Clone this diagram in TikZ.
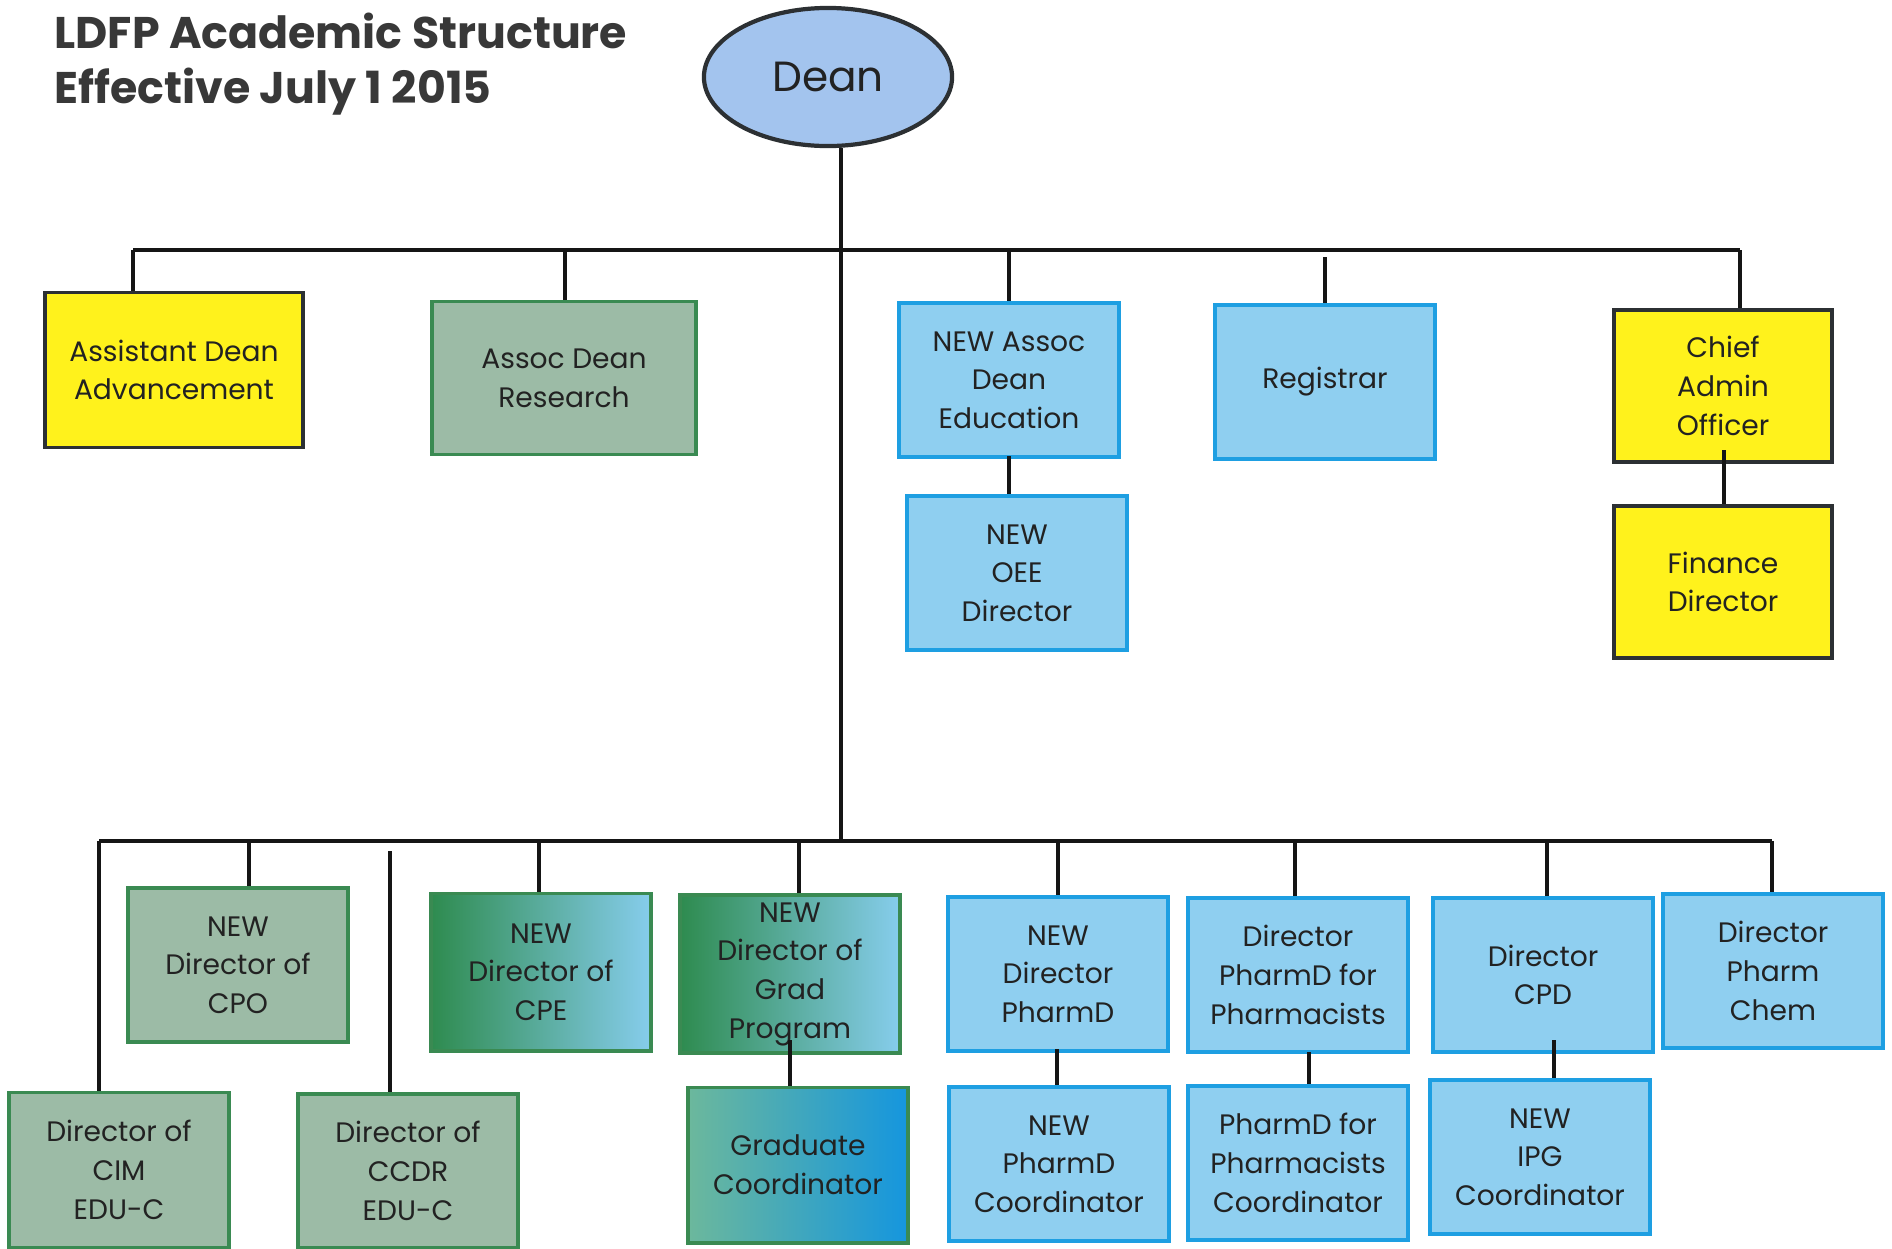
\documentclass[tikz,border=0pt]{standalone}
\usepackage{fontspec}
\setmainfont{Poppins}
\usetikzlibrary{
  positioning,
  shapes.geometric,
}
\definecolor{ink}{HTML}{222222}
\definecolor{wirec}{HTML}{151515}
\definecolor{goldfill}{HTML}{FFF21C}
\definecolor{goldedge}{HTML}{2C3033}
\definecolor{sagefill}{HTML}{9CBBA6}
\definecolor{sageedge}{HTML}{3A8A52}
\definecolor{skyfill}{HTML}{8FCFF0}
\definecolor{skyedge}{HTML}{1E9FE2}
\definecolor{deanfill}{HTML}{A3C4EE}
\definecolor{pine}{HTML}{2E8B4F}
\definecolor{palesky}{HTML}{86CDEC}
\definecolor{seafoam}{HTML}{6CB89C}
\definecolor{deepsky}{HTML}{1596DE}
\tikzset{
  wire/.style={draw=wirec, line width=0.9pt},
  post/.style={
    rectangle,
    minimum width=2.2cm,
    minimum height=1.54cm,
    inner sep=2pt,
    align=center,
    font=\fontsize{8}{11}\selectfont,
    text=ink,
    line width=1.1pt,
  },
  gold/.style={post, fill=goldfill, draw=goldedge},
  sage/.style={post, fill=sagefill, draw=sageedge},
  sky/.style={post, fill=skyfill, draw=skyedge, line width=1.3pt},
  fade/.style 2 args={post, draw=sageedge, left color=#1, right color=#2},
  headline/.style={font=\fontsize{12.6}{15.6}\selectfont\bfseries, text=ink!90, align=left, anchor=north west},
}

\begin{document}
\begin{tikzpicture}[x=0.01cm,y=-0.01cm]
  \useasboundingbox[fill=white] (0,0) rectangle (1892,1248);
  \node[headline] (title) at (42,1) {LDFP Academic Structure\\Effective July 1 2015};

  \node[ellipse, draw=goldedge, line width=1.2pt, fill=deanfill,
        minimum width=2.48cm, minimum height=1.38cm,
        font=\fontsize{12}{14}\selectfont, text=ink] (dean) at (828,77) {Dean};

  % upper row
  \node[gold, minimum width=2.58cm, minimum height=1.55cm] (adv) at (174,370) {Assistant Dean\\Advancement};
  \node[sage, minimum width=2.64cm, minimum height=1.53cm] (res) at (564,378) {Assoc Dean\\Research};
  \node[sky] (edu) at (1009,380) {NEW Assoc\\Dean\\Education};
  \node[sky] (reg) at (1325,382) {Registrar};
  \node[gold, minimum width=2.18cm, minimum height=1.52cm] (cao) at (1723,386) {Chief\\Admin\\Officer};
  \node[sky] (oee) at (1017,573) {NEW\\OEE\\Director};
  \node[gold, minimum width=2.18cm, minimum height=1.52cm] (fin) at (1723,582) {Finance\\Director};

  % lower row
  \node[sage, minimum height=1.55cm] (cim) at (119,1170) {Director of\\CIM\\EDU-C};
  \node[sage] (cpo) at (238,965) {NEW\\Director of\\CPO};
  \node[sage] (ccdr) at (408,1171) {Director of\\CCDR\\EDU-C};
  \node[fade={pine}{palesky}, minimum height=1.57cm] (cpe) at (541,972) {NEW\\Director of\\CPE};
  \node[fade={pine}{palesky}, minimum height=1.57cm] (grad) at (790,974) {NEW\\Director of\\Grad\\Program};
  \node[fade={seafoam}{deepsky}, minimum height=1.55cm] (gco) at (798,1165) {Graduate\\Coordinator};
  \node[sky] (pdd) at (1058,974) {NEW\\Director\\PharmD};
  \node[sky] (pdc) at (1059,1164) {NEW\\PharmD\\Coordinator};
  \node[sky] (dpp) at (1298,975) {Director\\PharmD for\\Pharmacists};
  \node[sky] (ppc) at (1298,1163) {PharmD for\\Pharmacists\\Coordinator};
  \node[sky] (cpd) at (1543,975) {Director\\CPD};
  \node[sky] (ipg) at (1540,1157) {NEW\\IPG\\Coordinator};
  \node[sky] (chem) at (1773,971) {Director\\Pharm\\Chem};

  % buses
  \coordinate (trunk) at (841,841);
  \coordinate (topL) at (133,250);
  \coordinate (topR) at (1740,250);
  \coordinate (botL) at (99,841);
  \coordinate (botR) at (1772,841);
  \draw[wire] (dean.south -| trunk) -- (trunk);
  \draw[wire] (topL) -- (topR);
  \draw[wire] (botL) -- (botR);

  % drops
  \foreach \n/\x/\y in {adv/133/250, res/565/250, edu/1009/250, reg/1325/257, cao/1740/250,
                       cim/99/841, cpo/249/841, ccdr/390/851, cpe/539/841, grad/799/841,
                       pdd/1058/841, dpp/1295/841, cpd/1547/841, chem/1772/841} {
    \coordinate (d\n) at (\x,\y);
    \draw[wire] (d\n) -- (d\n |- \n.north);
  }

  % second level links
  \coordinate (jedu) at (1009,456);
  \coordinate (jcao) at (1724,450);
  \coordinate (jgrad) at (790,1040);
  \coordinate (jpdd) at (1057,1049);
  \coordinate (jdpp) at (1309,1052);
  \coordinate (jcpd) at (1554,1040);
  \foreach \a/\b in {edu/oee, cao/fin, grad/gco, pdd/pdc, dpp/ppc, cpd/ipg} {
    \draw[wire] (j\a) -- (j\a |- \b.north);
  }
\end{tikzpicture}
\end{document}
